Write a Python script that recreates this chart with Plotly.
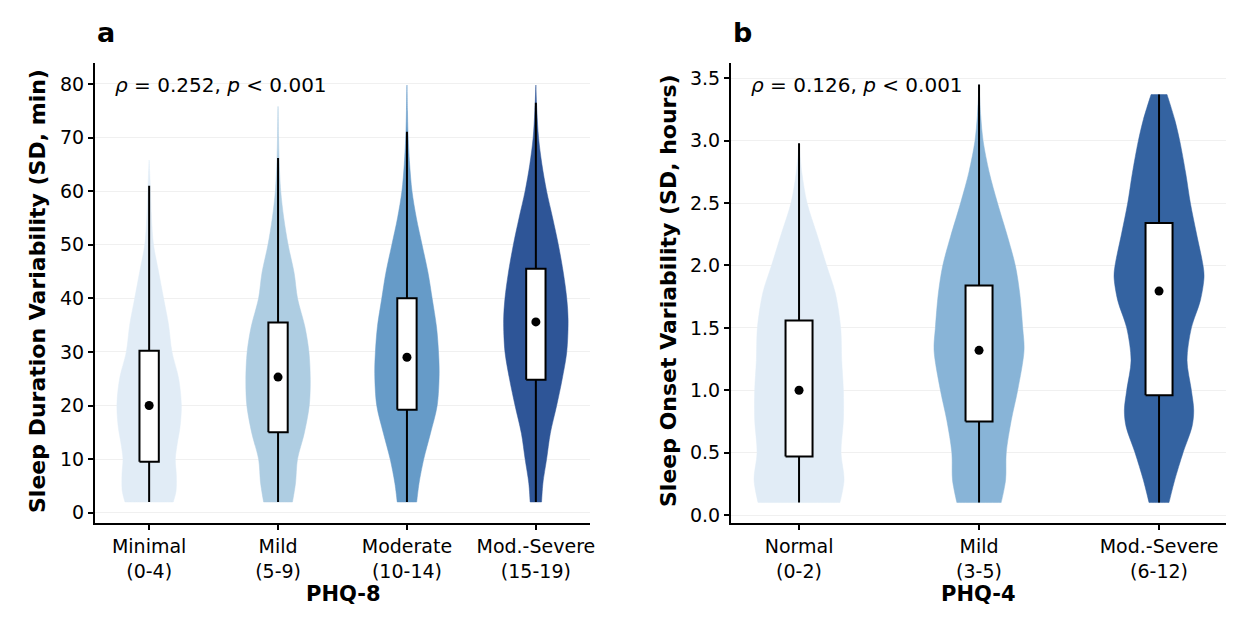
import numpy as np
import plotly.graph_objects as go

# ---------------- Panel a: PHQ-8 vs sleep duration variability ----------------
cats_a = ["Minimal<br>(0-4)", "Mild<br>(5-9)", "Moderate<br>(10-14)", "Mod.-Severe<br>(15-19)"]
colors_a = ["#e1ecf6", "#aecde2", "#669bc8", "#2e5597"]
# density profile (value levels and relative density)
kde_y_a = [
    [2, 4, 7, 10, 13, 16, 20, 25, 30, 35, 40, 45, 50, 55, 60, 63, 65.8],
    [2, 5.5, 10, 14.8, 20, 24.8, 30, 34.7, 40, 44.7, 50, 55, 60, 66, 70, 75.8],
    [2, 5.5, 10, 14.8, 20, 26, 30, 34.7, 40, 44.7, 50, 55, 60, 65, 71, 75, 79.8],
    [2, 5.5, 10, 14.8, 20, 24.8, 30, 36, 40, 44.7, 50, 55, 60, 65, 70, 75, 79.8],
]
kde_d_a = [
    [72, 80, 81, 78, 84, 92, 96, 88, 68, 58, 43, 28, 13, 7, 4, 2, 0],
    [43, 52, 58, 78, 93, 96, 92, 80, 58, 48, 30, 17, 8, 3, 1.5, 0],
    [29, 36, 50, 70, 90, 96, 94, 88, 75, 63, 45, 28, 15, 8, 3, 1.5, 0],
    [17, 21, 32, 43, 62, 78, 92, 96, 92, 82, 67, 50, 32, 18, 8, 3, 0],
]
q1_a = [9.5, 15.0, 19.2, 24.8]
med_a = [20.0, 25.3, 29.0, 35.6]
q3_a = [30.2, 35.5, 40.0, 45.5]
lo_a = [2, 2, 2, 2]
hi_a = [61.0, 66.2, 71.1, 76.5]
yticks_a = [0, 10, 20, 30, 40, 50, 60, 70, 80]

# ---------------- Panel b: PHQ-4 vs sleep onset variability ----------------
cats_b = ["Normal<br>(0-2)", "Mild<br>(3-5)", "Mod.-Severe<br>(6-12)"]
colors_b = ["#e1ecf6", "#88b4d7", "#3463a1"]
kde_y_b = [
    [0.1, 0.28, 0.5, 0.76, 1.0, 1.24, 1.5, 1.78, 2.0, 2.26, 2.5, 2.75, 2.98],
    [0.1, 0.28, 0.5, 0.76, 1.0, 1.32, 1.5, 1.78, 2.0, 2.23, 2.5, 2.75, 3.0, 3.2, 3.45],
    [0.1, 0.28, 0.5, 0.71, 0.84, 1.0, 1.24, 1.5, 1.72, 1.91, 2.0, 2.26, 2.5, 2.74, 3.0, 3.17, 3.37],
]
kde_d_b = [
    [122, 134, 125, 132, 132, 127, 124, 108, 82, 52, 24, 8, 0],
    [66, 79, 81, 96, 115, 134, 130, 121, 108, 85, 55, 30, 12, 5, 0],
    [30, 47, 72, 99, 104, 97, 84, 97, 124, 135, 132, 112, 94, 80, 62, 47, 24],
]
q1_b = [0.47, 0.75, 0.96]
med_b = [1.0, 1.32, 1.795]
q3_b = [1.56, 1.84, 2.34]
lo_b = [0.1, 0.1, 0.1]
hi_b = [2.98, 3.45, 3.37]
yticks_b = [0.0, 0.5, 1.0, 1.5, 2.0, 2.5, 3.0, 3.5]

FONT = "DejaVu Sans"
HALF_VIOLIN = 0.25
HALF_BOX = 0.075

fig = go.Figure()


def add_panel(xa, ya, cats, colors, kde_y, kde_d, q1, med, q3, lo, hi):
    for i in range(len(cats)):
        y = np.array(kde_y[i], dtype=float)
        d = np.array(kde_d[i], dtype=float)
        w = d / d.max() * HALF_VIOLIN
        right_x, right_y = i + w, y
        left_x, left_y = (i - w)[::-1], y[::-1]
        # flat cut at the bottom: repeat the corner points so the spline keeps sharp corners
        xs = np.concatenate([[i, i + w[0]], right_x, left_x, [i - w[0], i]])
        ys = np.concatenate([[y[0], y[0]], right_y, left_y, [y[0], y[0]]])
        if w[-1] > 0:  # flat cut at the top too
            xs = np.concatenate([[i, i + w[0]], right_x, [i + w[-1], i - w[-1]],
                                 left_x, [i - w[0], i]])
            ys = np.concatenate([[y[0], y[0]], right_y, [y[-1], y[-1]],
                                 left_y, [y[0], y[0]]])
        fig.add_trace(go.Scatter(
            x=xs, y=ys, mode="lines", fill="toself", fillcolor=colors[i],
            line=dict(color=colors[i], width=0.5, shape="spline", smoothing=0.9),
            xaxis=xa, yaxis=ya, hoverinfo="skip", showlegend=False))
    for i in range(len(cats)):
        fig.add_trace(go.Scatter(
            x=[i, i], y=[lo[i], hi[i]], mode="lines",
            line=dict(color="black", width=2),
            xaxis=xa, yaxis=ya, hoverinfo="skip", showlegend=False))
        fig.add_trace(go.Scatter(
            x=[i - HALF_BOX, i + HALF_BOX, i + HALF_BOX, i - HALF_BOX, i - HALF_BOX],
            y=[q1[i], q1[i], q3[i], q3[i], q1[i]], mode="lines", fill="toself",
            fillcolor="white", line=dict(color="black", width=2),
            xaxis=xa, yaxis=ya, hoverinfo="skip", showlegend=False))
        fig.add_trace(go.Scatter(
            x=[i], y=[med[i]], mode="markers",
            marker=dict(color="black", size=9),
            xaxis=xa, yaxis=ya, showlegend=False))


add_panel("x", "y", cats_a, colors_a, kde_y_a, kde_d_a, q1_a, med_a, q3_a, lo_a, hi_a)
add_panel("x2", "y2", cats_b, colors_b, kde_y_b, kde_d_b, q1_b, med_b, q3_b, lo_b, hi_b)

# geometry: the page body has an 8px margin, so the figure is drawn 8px in from the corner
OFF = 8
W, H = 1250 - 2 * OFF, 626 - 2 * OFF
PL, PR, PT, PB = 95, 1226, 63, 523          # target plot-area edges on screen
ML, MT = PL - OFF, PT - OFF
MR, MB = W - (PR - OFF), H - (PB - OFF)
PW, PH = W - ML - MR, H - MT - MB


def px(xp):
    return (xp - PL) / PW


def py(yp):
    return (PB - yp) / PH


tickfont = dict(family=FONT, size=19, color="black")
common_x = dict(showline=True, linecolor="black", linewidth=2, ticks="outside",
                ticklen=5, tickwidth=1.5, tickcolor="black", showgrid=False,
                zeroline=False, tickfont=tickfont)
common_y = dict(showline=True, linecolor="black", linewidth=2, ticks="outside",
                ticklen=5, tickwidth=1.5, tickcolor="black", showgrid=True,
                gridcolor="#f0f0f0", gridwidth=1, zeroline=False, tickfont=tickfont)

fig.update_layout(
    width=W, height=H, paper_bgcolor="white", plot_bgcolor="white",
    margin=dict(l=ML, r=MR, t=MT, b=MB),
    font=dict(family=FONT, color="black"),
    xaxis=dict(domain=[0, px(590)], range=[-0.42, 3.42],
               tickvals=list(range(len(cats_a))), ticktext=cats_a, anchor="y", **common_x),
    yaxis=dict(domain=[0, 1], range=[-1.92, 83.91], tickvals=yticks_a,
               ticktext=[str(v) for v in yticks_a], anchor="x", **common_y),
    xaxis2=dict(domain=[px(731), 1], range=[-0.378, 2.372],
                tickvals=list(range(len(cats_b))), ticktext=cats_b, anchor="y2", **common_x),
    yaxis2=dict(domain=[0, 1], range=[-0.064, 3.623], tickvals=yticks_b,
                ticktext=[f"{v:.1f}" for v in yticks_b], anchor="x2", **common_y),
)

ann = []
# panel letters
ann.append(dict(text="<b>a</b>", x=px(95), y=py(32), xanchor="left", yanchor="middle",
                font=dict(family=FONT, size=27, color="black")))
ann.append(dict(text="<b>b</b>", x=px(731), y=py(32), xanchor="left", yanchor="middle",
                font=dict(family=FONT, size=27, color="black")))
# correlation annotations
ann.append(dict(text="<i>ρ</i> = 0.252, <i>p</i> &lt; 0.001", x=px(113), y=py(85),
                xanchor="left", yanchor="middle", font=dict(family=FONT, size=20, color="black")))
ann.append(dict(text="<i>ρ</i> = 0.126, <i>p</i> &lt; 0.001", x=px(749), y=py(85),
                xanchor="left", yanchor="middle", font=dict(family=FONT, size=20, color="black")))
# axis titles
ann.append(dict(text="<b>Sleep Duration Variability (SD, min)</b>", x=px(37), y=py(291),
                textangle=-90, xanchor="center", yanchor="middle",
                font=dict(family=FONT, size=22, color="black")))
ann.append(dict(text="<b>Sleep Onset Variability (SD, hours)</b>", x=px(668), y=py(291),
                textangle=-90, xanchor="center", yanchor="middle",
                font=dict(family=FONT, size=22, color="black")))
ann.append(dict(text="<b>PHQ-8</b>", x=px(343), y=py(594), xanchor="center", yanchor="middle",
                font=dict(family=FONT, size=21, color="black")))
ann.append(dict(text="<b>PHQ-4</b>", x=px(978), y=py(594), xanchor="center", yanchor="middle",
                font=dict(family=FONT, size=21, color="black")))
for a in ann:
    a.update(xref="paper", yref="paper", showarrow=False)
fig.update_layout(annotations=ann)

fig.write_html("out.html")
